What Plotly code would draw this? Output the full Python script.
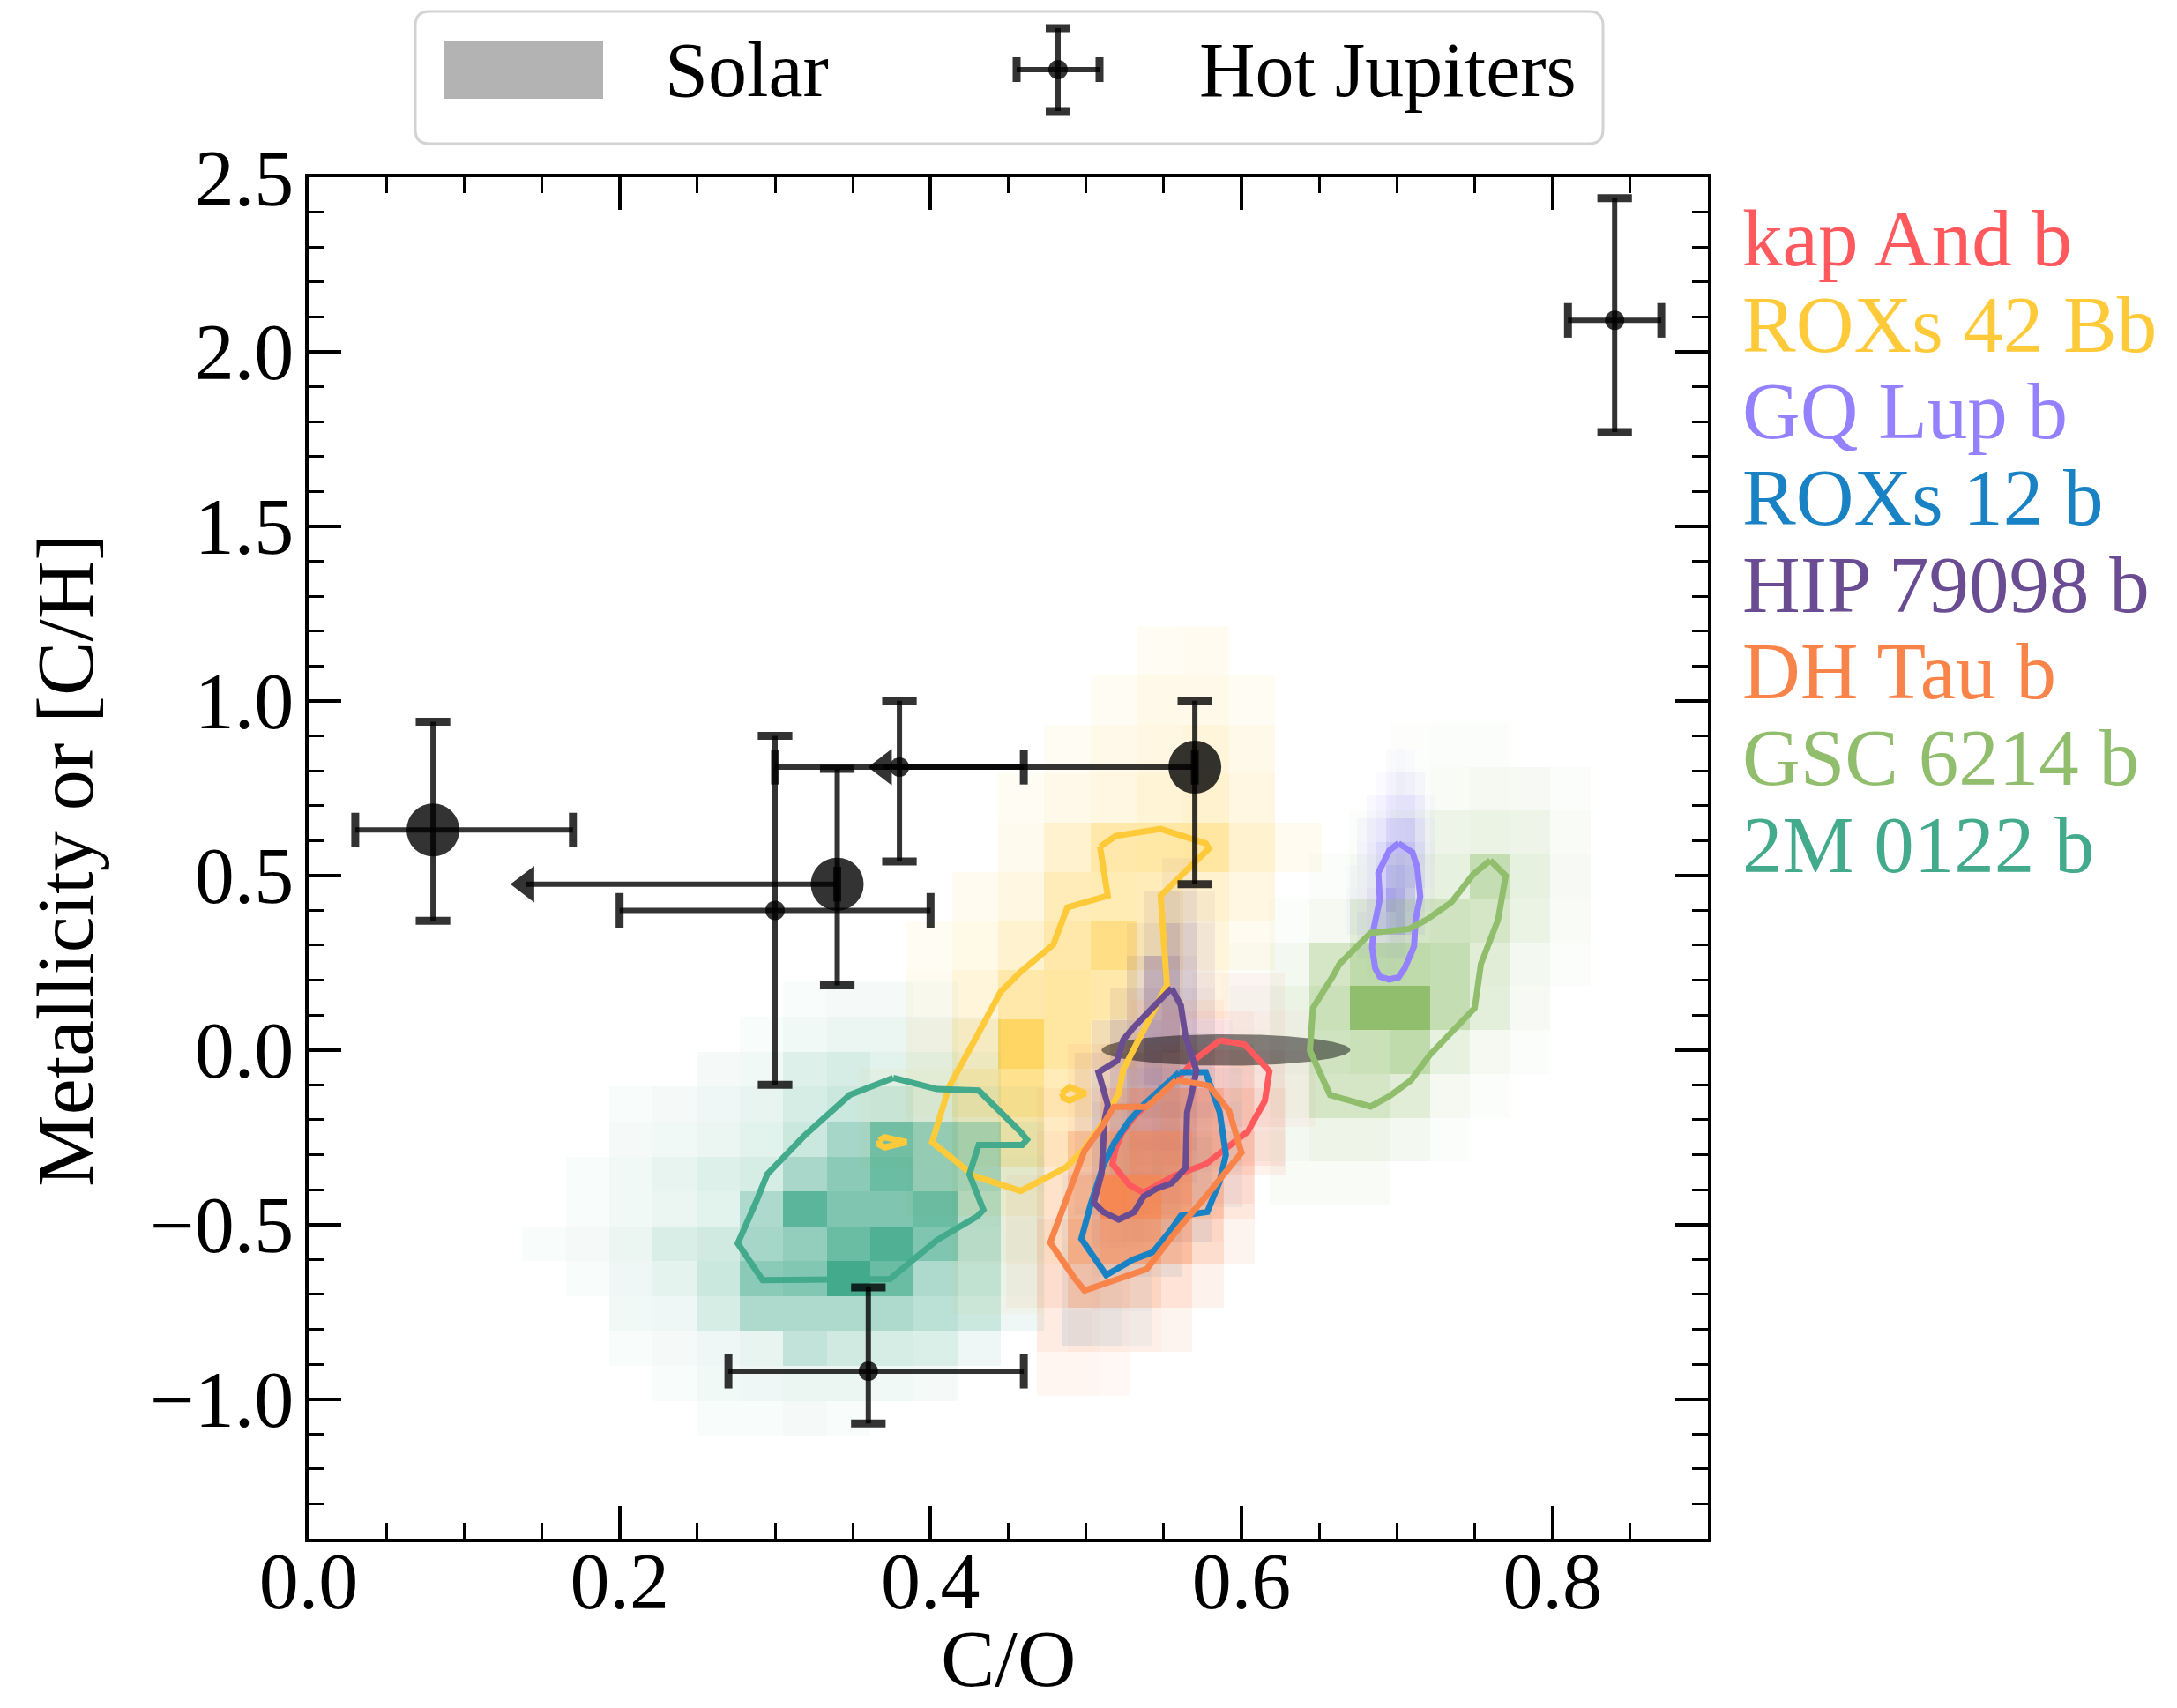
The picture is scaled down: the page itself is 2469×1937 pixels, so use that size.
import numpy as np
import plotly.graph_objects as go

# ---------------------------------------------------------------- canvas
W, H = 2469, 1937
ML, MR, MT, MB = 350, 532, 201, 192
PW, PH = W - ML - MR, H - MT - MB
FONT = "Liberation Serif"
INK = "rgba(0,0,0,0.8)"


def paper_x(px):
    return (px - ML) / PW


def paper_y(py):
    return (H - MB - py) / PH


# ---------------------------------------------------------------- companions
names = ["kap And b", "ROXs 42 Bb", "GQ Lup b", "ROXs 12 b",
         "HIP 79098 b", "DH Tau b", "GSC 6214 b", "2M 0122 b"]
colors = ["#FF595E", "#FFCA3A", "#9381FF", "#1982C4",
          "#6A4C93", "#F9844A", "#90BE6D", "#43AA8B"]

# 2-D posterior histograms: (x origin, x bin, y origin, y bin) and
# relative density per bin, rows listed from the top row downwards.
kap_and_bins = (0.509, 0.0198, -0.55, 0.11)
kap_and_density = [
    [0, 0, 0, 0.02, 0.03, 0.03, 0],
    [0, 0, 0.03, 0.06, 0.08, 0.05, 0.02],
    [0, 0.04, 0.10, 0.15, 0.18, 0.10, 0.03],
    [0.04, 0.12, 0.20, 0.25, 0.22, 0.12, 0.03],
    [0.06, 0.15, 0.25, 0.22, 0.15, 0.06, 0],
    [0.05, 0.12, 0.15, 0.10, 0.05, 0, 0],
    [0.03, 0.05, 0.05, 0.03, 0, 0, 0],
]

roxs42_bins = (0.3543, 0.0297, -0.756, 0.1407)
roxs42_density = [
    [0, 0, 0, 0, 0, 0, 0.03, 0.04, 0, 0],
    [0, 0, 0, 0, 0, 0.03, 0.06, 0.06, 0.03, 0],
    [0, 0, 0, 0, 0.03, 0.06, 0.09, 0.12, 0.06, 0],
    [0, 0, 0, 0.03, 0.06, 0.09, 0.15, 0.18, 0.09, 0],
    [0, 0, 0, 0.05, 0.18, 0.35, 0.38, 0.40, 0.18, 0.04],
    [0, 0, 0.04, 0.09, 0.28, 0.30, 0.28, 0.18, 0.09, 0],
    [0, 0.03, 0.07, 0.18, 0.35, 0.55, 0.28, 0.12, 0.04, 0],
    [0, 0.04, 0.12, 0.35, 0.40, 0.35, 0.18, 0.07, 0, 0],
    [0, 0.06, 0.22, 0.75, 0.40, 0.28, 0.12, 0, 0, 0],
    [0.03, 0.09, 0.35, 0.50, 0.28, 0.15, 0.06, 0, 0, 0],
    [0.03, 0.07, 0.22, 0.35, 0.18, 0.09, 0, 0, 0, 0],
    [0, 0.06, 0.15, 0.15, 0.07, 0.04, 0, 0, 0, 0],
    [0, 0, 0.06, 0.07, 0.04, 0, 0, 0, 0, 0],
    [0, 0, 0.03, 0.03, 0, 0, 0, 0, 0, 0],
]

gqlup_bins = (0.6678, 0.00622, 0.197, 0.0665)
gqlup_density = [
    [0, 0, 0, 0, 0.02, 0.03, 0.02, 0, 0, 0],
    [0, 0, 0, 0.02, 0.05, 0.08, 0.06, 0.03, 0, 0],
    [0, 0, 0.03, 0.06, 0.12, 0.15, 0.15, 0.08, 0.02, 0],
    [0, 0.03, 0.08, 0.12, 0.25, 0.28, 0.30, 0.15, 0.04, 0],
    [0, 0.04, 0.10, 0.20, 0.40, 0.45, 0.40, 0.20, 0.05, 0],
    [0.02, 0.05, 0.10, 0.25, 0.50, 0.55, 0.45, 0.18, 0.04, 0],
    [0.03, 0.06, 0.15, 0.30, 0.70, 0.60, 0.35, 0.10, 0.03, 0],
    [0.03, 0.10, 0.15, 0.35, 0.50, 0.60, 0.30, 0.08, 0, 0],
    [0, 0.04, 0.05, 0.10, 0.15, 0.15, 0.08, 0, 0, 0],
    [0, 0, 0.02, 0.03, 0.04, 0.03, 0, 0, 0, 0],
]

roxs12_bins = (0.4845, 0.0194, -0.85, 0.1)
roxs12_density = [
    [0, 0, 0, 0.02, 0.03, 0, 0],
    [0, 0, 0.03, 0.05, 0.06, 0.03, 0],
    [0, 0.03, 0.06, 0.10, 0.10, 0.05, 0],
    [0, 0.05, 0.10, 0.15, 0.15, 0.06, 0],
    [0.03, 0.08, 0.15, 0.18, 0.12, 0.04, 0],
    [0.05, 0.12, 0.18, 0.15, 0.06, 0, 0],
    [0.06, 0.12, 0.12, 0.06, 0, 0, 0],
    [0.06, 0.08, 0.05, 0, 0, 0, 0],
    [0.08, 0.06, 0.03, 0, 0, 0, 0],
]

hip79098_bins = (0.4927, 0.0113, -0.568, 0.0931)
hip79098_density = [
    [0, 0, 0, 0, 0, 0.03, 0.03, 0, 0],
    [0, 0, 0, 0, 0.05, 0.13, 0.09, 0.03, 0],
    [0, 0, 0, 0.03, 0.09, 0.26, 0.16, 0.05, 0],
    [0, 0, 0, 0.09, 0.32, 0.36, 0.19, 0.05, 0],
    [0, 0, 0.05, 0.16, 0.36, 0.42, 0.23, 0.07, 0],
    [0, 0.05, 0.16, 0.23, 0.42, 0.42, 0.23, 0.09, 0.02],
    [0.05, 0.11, 0.21, 0.32, 0.42, 0.32, 0.21, 0.07, 0],
    [0.05, 0.13, 0.21, 0.30, 0.32, 0.30, 0.19, 0.05, 0],
    [0.05, 0.13, 0.21, 0.26, 0.26, 0.21, 0.11, 0, 0],
    [0.05, 0.13, 0.21, 0.21, 0.19, 0.13, 0.05, 0, 0],
    [0.04, 0.11, 0.16, 0.13, 0.09, 0.04, 0, 0, 0],
    [0, 0.04, 0.05, 0.03, 0, 0, 0, 0, 0],
]

dhtau_bins = (0.4486, 0.0200, -0.990, 0.126)
dhtau_density = [
    [0, 0, 0, 0, 0.04, 0.05, 0.04, 0, 0],
    [0, 0, 0.04, 0.08, 0.10, 0.12, 0.10, 0.05, 0],
    [0, 0.04, 0.08, 0.20, 0.32, 0.38, 0.32, 0.13, 0.04],
    [0, 0.08, 0.32, 0.50, 0.60, 0.60, 0.38, 0.23, 0.06],
    [0.04, 0.13, 0.45, 0.92, 0.85, 0.65, 0.38, 0.13, 0],
    [0.05, 0.20, 0.55, 0.65, 0.65, 0.45, 0.20, 0.05, 0],
    [0.04, 0.20, 0.38, 0.32, 0.26, 0.16, 0.06, 0, 0],
    [0, 0.10, 0.13, 0.10, 0.08, 0.05, 0, 0, 0],
    [0, 0.04, 0.04, 0.03, 0, 0, 0, 0, 0],
]

gsc6214_bins = (0.5923, 0.0258, -0.444, 0.1255)
gsc6214_density = [
    [0, 0, 0, 0, 0.01, 0.02, 0.02, 0, 0, 0],
    [0, 0, 0, 0, 0.02, 0.03, 0.05, 0.04, 0.02, 0],
    [0, 0, 0, 0.02, 0.05, 0.10, 0.12, 0.10, 0.03, 0],
    [0, 0, 0.02, 0.05, 0.12, 0.15, 0.45, 0.15, 0.04, 0],
    [0, 0.02, 0.05, 0.20, 0.30, 0.35, 0.30, 0.12, 0.03, 0],
    [0.02, 0.06, 0.30, 0.50, 0.50, 0.45, 0.20, 0.06, 0.02, 0],
    [0.04, 0.12, 0.40, 1.00, 1.00, 0.45, 0.18, 0.04, 0, 0],
    [0.05, 0.12, 0.35, 0.40, 0.50, 0.15, 0.05, 0.02, 0, 0],
    [0.04, 0.10, 0.30, 0.30, 0.20, 0.05, 0.02, 0, 0, 0],
    [0.03, 0.06, 0.10, 0.10, 0.06, 0.02, 0, 0, 0, 0],
    [0, 0.03, 0.03, 0.03, 0, 0, 0, 0, 0, 0],
]

twom0122_bins = (0.1374, 0.02797, -1.105, 0.1)
twom0122_density = [
    [0, 0, 0, 0, 0, 0, 0.02, 0.03, 0.03, 0.02, 0, 0],
    [0, 0, 0, 0, 0, 0.02, 0.04, 0.06, 0.06, 0.05, 0.03, 0],
    [0, 0, 0, 0, 0.03, 0.04, 0.12, 0.15, 0.10, 0.10, 0.05, 0],
    [0, 0, 0.02, 0.03, 0.05, 0.08, 0.15, 0.20, 0.22, 0.15, 0.10, 0.03],
    [0, 0, 0.03, 0.04, 0.06, 0.10, 0.20, 0.40, 0.70, 0.50, 0.40, 0.08],
    [0, 0.02, 0.04, 0.08, 0.12, 0.15, 0.38, 0.55, 0.75, 0.50, 0.40, 0.10],
    [0, 0.02, 0.04, 0.06, 0.10, 0.35, 0.85, 0.62, 0.62, 0.75, 0.32, 0.08],
    [0.02, 0.03, 0.06, 0.14, 0.18, 0.40, 0.50, 0.75, 0.92, 0.62, 0.30, 0.08],
    [0, 0.02, 0.05, 0.09, 0.20, 0.55, 0.60, 1.00, 0.75, 0.35, 0.25, 0.06],
    [0, 0, 0.04, 0.05, 0.15, 0.35, 0.35, 0.35, 0.35, 0.28, 0.20, 0.05],
    [0, 0, 0.02, 0.03, 0.05, 0.08, 0.25, 0.18, 0.15, 0.13, 0.05, 0],
    [0, 0, 0, 0.02, 0.04, 0.05, 0.06, 0.06, 0.04, 0.03, 0, 0],
    [0, 0, 0, 0, 0.02, 0.02, 0.03, 0.02, 0, 0, 0, 0],
]

# Credible-region outlines (C/O, [C/H])
kap_and_cx = [0.586, 0.602, 0.618, 0.615, 0.604, 0.594, 0.577, 0.557, 0.537,
              0.528, 0.517, 0.519, 0.523, 0.530, 0.539, 0.554, 0.564, 0.569]
kap_and_cy = [0.027, 0.016, -0.061, -0.146, -0.234, -0.267, -0.327, -0.360, -0.409,
              -0.387, -0.327, -0.283, -0.239, -0.196, -0.157, -0.102, -0.059, -0.031]

roxs42_cx = [0.509, 0.519, 0.548, 0.577, 0.579, 0.548, 0.552, 0.539, 0.524, 0.521,
             0.509, 0.498, 0.487, 0.458, 0.428, 0.401, 0.412, 0.430, 0.445, 0.458,
             0.479, 0.488, 0.514]
roxs42_cy = [0.582, 0.613, 0.633, 0.592, 0.577, 0.442, 0.186, 0.070, -0.056, -0.124,
             -0.221, -0.288, -0.337, -0.404, -0.361, -0.264, -0.105, 0.041, 0.166, 0.224,
             0.302, 0.408, 0.442]
roxs42_island1_cx = [0.4845, 0.4895, 0.4997, 0.4895, 0.4857]
roxs42_island1_cy = [-0.124, -0.106, -0.124, -0.145, -0.138]
roxs42_island2_cx = [0.3668, 0.3706, 0.3845, 0.3706, 0.3673]
roxs42_island2_cy = [-0.259, -0.250, -0.264, -0.279, -0.272]

gqlup_cx = [0.701, 0.710, 0.713, 0.715, 0.712, 0.711, 0.705, 0.701, 0.695, 0.689,
            0.686, 0.684, 0.685, 0.689, 0.688, 0.695]
gqlup_cy = [0.592, 0.566, 0.524, 0.440, 0.373, 0.297, 0.234, 0.208, 0.202, 0.210,
            0.234, 0.293, 0.347, 0.432, 0.507, 0.571]

roxs12_cx = [0.560, 0.577, 0.586, 0.590, 0.586, 0.578, 0.561, 0.554, 0.543, 0.530,
             0.513, 0.497, 0.503, 0.511, 0.518, 0.528, 0.537, 0.548]
roxs12_cy = [-0.064, -0.064, -0.179, -0.300, -0.376, -0.464, -0.475, -0.519, -0.579, -0.601,
             -0.645, -0.541, -0.442, -0.333, -0.267, -0.201, -0.157, -0.113]

hip79098_cx = [0.555, 0.561, 0.564, 0.567, 0.571, 0.568, 0.565, 0.564, 0.555, 0.545,
               0.537, 0.531, 0.521, 0.511, 0.505, 0.510, 0.511, 0.512, 0.514, 0.511,
               0.508, 0.520, 0.524, 0.530, 0.545]
hip79098_cy = [0.177, 0.128, 0.040, 0.002, -0.059, -0.124, -0.179, -0.338, -0.382, -0.398,
               -0.420, -0.464, -0.486, -0.464, -0.437, -0.354, -0.267, -0.201, -0.157, -0.113,
               -0.064, -0.031, 0.029, 0.062, 0.128]

dhtau_cx = [0.558, 0.579, 0.592, 0.600, 0.577, 0.560, 0.539, 0.499, 0.492, 0.477,
            0.488, 0.499, 0.509, 0.518, 0.539]
dhtau_cy = [-0.086, -0.102, -0.174, -0.294, -0.420, -0.508, -0.628, -0.689, -0.650, -0.552,
            -0.420, -0.289, -0.228, -0.163, -0.163]

gsc6214_cx = [0.760, 0.770, 0.765, 0.759, 0.754, 0.750, 0.736, 0.721, 0.709, 0.695,
              0.683, 0.657, 0.644, 0.646, 0.659, 0.663, 0.683, 0.708, 0.719, 0.735, 0.749]
gsc6214_cy = [0.543, 0.499, 0.373, 0.305, 0.246, 0.120, 0.052, -0.015, -0.087, -0.133,
              -0.162, -0.129, -0.002, 0.120, 0.213, 0.246, 0.335, 0.347, 0.373, 0.423, 0.503]

twom0122_cx = [0.376, 0.404, 0.431, 0.441, 0.458, 0.462, 0.459, 0.431, 0.425, 0.434,
               0.430, 0.404, 0.374, 0.292, 0.276, 0.288, 0.295, 0.319, 0.333, 0.348]
twom0122_cy = [-0.080, -0.112, -0.116, -0.158, -0.235, -0.257, -0.272, -0.272, -0.356, -0.458,
               -0.477, -0.545, -0.656, -0.659, -0.554, -0.433, -0.356, -0.245, -0.187, -0.129]

# Solar value and its uncertainty
solar_co, solar_co_err = 0.59, 0.08
solar_ch, solar_ch_err = 0.0, 0.045

# Hot Jupiter retrievals
hj_co = [0.08, 0.34, 0.30, 0.38, 0.57, 0.36, 0.84]
hj_co_lo = [0.05, 0.20, 0.10, 0.08, 0.20, 0.09, 0.03]
hj_co_hi = [0.09, 0.00, 0.10, 0.08, 0.00, 0.10, 0.03]
hj_met = [0.63, 0.475, 0.40, 0.81, 0.81, -0.92, 2.09]
hj_met_lo = [0.26, 0.29, 0.50, 0.27, 0.335, 0.15, 0.32]
hj_met_hi = [0.31, 0.33, 0.50, 0.19, 0.19, 0.24, 0.35]
hj_co_upper_limit = [False, True, False, False, True, False, False]
hj_highlight = [True, True, False, False, True, False, False]


# ---------------------------------------------------------------- helpers
def rgba(hex_color, a):
    h = hex_color.lstrip("#")
    return "rgba(%d,%d,%d,%.3f)" % (int(h[0:2], 16), int(h[2:4], 16), int(h[4:6], 16), a)


def colour_ramp(color):
    # transparent-to-colour map with a slightly lifted low end
    stops = [0, 0.05, 0.1, 0.2, 0.35, 0.5, 0.75, 1.0]
    return [[s, rgba(color, s ** 0.8)] for s in stops]


def density_trace(bins, rows, color):
    x0, dx, y0, dy = bins
    z = np.array(rows, dtype=float)[::-1]
    ny, nx = z.shape
    return go.Heatmap(
        x=x0 + dx * np.arange(nx + 1), y=y0 + dy * np.arange(ny + 1), z=z,
        zmin=0, zmax=1, zsmooth=False, showscale=False, hoverinfo="skip",
        colorscale=colour_ramp(color),
    )


def outline_trace(xs, ys, color):
    return go.Scatter(
        x=list(xs) + [xs[0]], y=list(ys) + [ys[0]], mode="lines",
        line=dict(color=color, width=7), hoverinfo="skip", showlegend=False,
    )


densities = [
    (kap_and_bins, kap_and_density), (roxs42_bins, roxs42_density),
    (gqlup_bins, gqlup_density), (roxs12_bins, roxs12_density),
    (hip79098_bins, hip79098_density), (dhtau_bins, dhtau_density),
    (gsc6214_bins, gsc6214_density), (twom0122_bins, twom0122_density),
]
outlines = [
    [(kap_and_cx, kap_and_cy)],
    [(roxs42_cx, roxs42_cy), (roxs42_island1_cx, roxs42_island1_cy),
     (roxs42_island2_cx, roxs42_island2_cy)],
    [(gqlup_cx, gqlup_cy)],
    [(roxs12_cx, roxs12_cy)],
    [(hip79098_cx, hip79098_cy)],
    [(dhtau_cx, dhtau_cy)],
    [(gsc6214_cx, gsc6214_cy)],
    [(twom0122_cx, twom0122_cy)],
]

fig = go.Figure()

# posterior histograms
for (bins, rows), color in zip(densities, colors):
    fig.add_trace(density_trace(bins, rows, color))

# solar ellipse
t = np.linspace(0, 2 * np.pi, 181)
fig.add_trace(go.Scatter(
    x=solar_co + solar_co_err * np.cos(t), y=solar_ch + solar_ch_err * np.sin(t),
    mode="lines", fill="toself", fillcolor="rgba(0,0,0,0.47)",
    line=dict(width=0, color="rgba(0,0,0,0)"), hoverinfo="skip", showlegend=False,
))

# credible-region outlines
for loops, color in zip(outlines, colors):
    for xs, ys in loops:
        fig.add_trace(outline_trace(xs, ys, color))

# hot Jupiter error bars
for big in (True, False):
    idx = [i for i, b in enumerate(hj_highlight) if b == big]
    fig.add_trace(go.Scatter(
        x=[hj_co[i] for i in idx], y=[hj_met[i] for i in idx], mode="markers",
        marker=dict(size=60 if big else 22, color=INK, line=dict(width=0)),
        error_x=dict(type="data", symmetric=False,
                     array=[hj_co_hi[i] for i in idx],
                     arrayminus=[hj_co_lo[i] for i in idx],
                     color=INK, thickness=6, width=0),
        error_y=dict(type="data", symmetric=False,
                     array=[hj_met_hi[i] for i in idx],
                     arrayminus=[hj_met_lo[i] for i in idx],
                     color=INK, thickness=6, width=0),
        hoverinfo="skip", showlegend=False,
    ))

# error-bar caps and upper-limit arrows
cap_h_x, cap_h_y, cap_v_x, cap_v_y, arr_x, arr_y = [], [], [], [], [], []
for i in range(len(hj_co)):
    cap_h_x += [hj_co[i], hj_co[i]]
    cap_h_y += [hj_met[i] + hj_met_hi[i], hj_met[i] - hj_met_lo[i]]
    if hj_co_upper_limit[i]:
        cap_v_x += [hj_co[i] + hj_co_hi[i]]
        cap_v_y += [hj_met[i]]
        arr_x.append(hj_co[i] - hj_co_lo[i])
        arr_y.append(hj_met[i])
    else:
        cap_v_x += [hj_co[i] + hj_co_hi[i], hj_co[i] - hj_co_lo[i]]
        cap_v_y += [hj_met[i], hj_met[i]]
fig.add_trace(go.Scatter(
    x=cap_h_x, y=cap_h_y, mode="markers", hoverinfo="skip", showlegend=False,
    marker=dict(symbol="line-ew", size=28, line=dict(color=INK, width=9)),
))
fig.add_trace(go.Scatter(
    x=cap_v_x, y=cap_v_y, mode="markers", hoverinfo="skip", showlegend=False,
    marker=dict(symbol="line-ns", size=28, line=dict(color=INK, width=9)),
))
fig.add_trace(go.Scatter(
    x=arr_x, y=arr_y, mode="markers", hoverinfo="skip", showlegend=False,
    marker=dict(symbol="triangle-left", size=36, color=INK, line=dict(width=0)),
))

# ---------------------------------------------------------------- axes
axis_common = dict(
    ticks="inside", ticklen=37, tickwidth=3.5, tickcolor="black",
    showline=True, linewidth=3.5, linecolor="black", mirror="allticks",
    showgrid=False, zeroline=False, tickformat=".1f", automargin=False,
    tickfont=dict(family=FONT, size=90, color="black"),
)
fig.update_xaxes(
    range=[0, 0.9], tick0=0, dtick=0.2, ticklabelstandoff=-33,
    minor=dict(ticks="inside", dtick=0.05, ticklen=18, tickwidth=3, tickcolor="black"),
    **axis_common,
)
fig.update_yaxes(
    range=[-1.4, 2.5], tick0=0, dtick=0.5, ticklabelstandoff=-5,
    minor=dict(ticks="inside", dtick=0.1, ticklen=18, tickwidth=3, tickcolor="black"),
    **axis_common,
)

# ---------------------------------------------------------------- legends & titles
shapes = []
annotations = [
    dict(text="C/O", x=0.5, y=paper_y(1881), xref="paper", yref="paper",
         xanchor="center", yanchor="middle", showarrow=False,
         font=dict(family=FONT, size=92, color="black")),
    dict(text="Metallicity or [C/H]", x=paper_x(74), y=paper_y(976), xref="paper",
         yref="paper", xanchor="center", yanchor="middle", textangle=-90,
         showarrow=False, font=dict(family=FONT, size=92, color="black")),
]

# top legend frame with rounded corners
bx0, bx1, by0, by1, rad = paper_x(471), paper_x(1818), paper_y(13), paper_y(163), 16
rx, ry = rad / PW, rad / PH
frame = (f"M{bx0 + rx},{by0} L{bx1 - rx},{by0} Q{bx1},{by0} {bx1},{by0 - ry} "
         f"L{bx1},{by1 + ry} Q{bx1},{by1} {bx1 - rx},{by1} "
         f"L{bx0 + rx},{by1} Q{bx0},{by1} {bx0},{by1 + ry} "
         f"L{bx0},{by0 - ry} Q{bx0},{by0} {bx0 + rx},{by0} Z")
shapes.append(dict(type="path", path=frame, xref="paper", yref="paper",
                   fillcolor="white", line=dict(color="#d3d3d3", width=3)))
shapes.append(dict(type="rect", xref="paper", yref="paper",
                   x0=paper_x(504), x1=paper_x(684), y0=paper_y(46), y1=paper_y(112),
                   fillcolor="#b3b3b3", line=dict(width=0)))
annotations.append(dict(text="Solar", x=paper_x(752), y=paper_y(80), xref="paper", yref="paper",
                        xanchor="left", yanchor="middle", showarrow=False,
                        font=dict(family=FONT, size=88, color="black")))
annotations.append(dict(text="Hot Jupiters", x=paper_x(1358), y=paper_y(80), xref="paper",
                        yref="paper", xanchor="left", yanchor="middle", showarrow=False,
                        font=dict(family=FONT, size=88, color="black")))

# hot Jupiter legend glyph
gx, gy, arm = 1200, 79, 47
for xa, ya, xb, yb in [(gx - arm, gy, gx + arm, gy), (gx, gy - arm, gx, gy + arm)]:
    shapes.append(dict(type="line", xref="paper", yref="paper",
                       x0=paper_x(xa), y0=paper_y(ya), x1=paper_x(xb), y1=paper_y(yb),
                       line=dict(color=INK, width=6)))
for cx, cy, horiz in [(gx - arm, gy, False), (gx + arm, gy, False),
                      (gx, gy - arm, True), (gx, gy + arm, True)]:
    hw, hh = (14, 4.5) if horiz else (4.5, 14)
    shapes.append(dict(type="rect", xref="paper", yref="paper",
                       x0=paper_x(cx - hw), x1=paper_x(cx + hw),
                       y0=paper_y(cy + hh), y1=paper_y(cy - hh),
                       fillcolor=INK, line=dict(width=0)))
shapes.append(dict(type="circle", xref="paper", yref="paper",
                   x0=paper_x(gx - 11), x1=paper_x(gx + 11),
                   y0=paper_y(gy + 11), y1=paper_y(gy - 11),
                   fillcolor=INK, line=dict(width=0)))

# companion names, coloured like their histograms
for k, (name, color) in enumerate(zip(names, colors)):
    annotations.append(dict(text=name, x=paper_x(1974), y=paper_y(270 + 98.3 * k),
                            xref="paper", yref="paper", xanchor="left", yanchor="middle",
                            showarrow=False, font=dict(family=FONT, size=91, color=color)))

fig.update_layout(
    width=W, height=H, autosize=False,
    margin=dict(l=ML, r=MR, t=MT, b=MB),
    paper_bgcolor="white", plot_bgcolor="white",
    showlegend=False, shapes=shapes, annotations=annotations,
    font=dict(family=FONT, color="black"),
)

fig.write_html("out.html")
